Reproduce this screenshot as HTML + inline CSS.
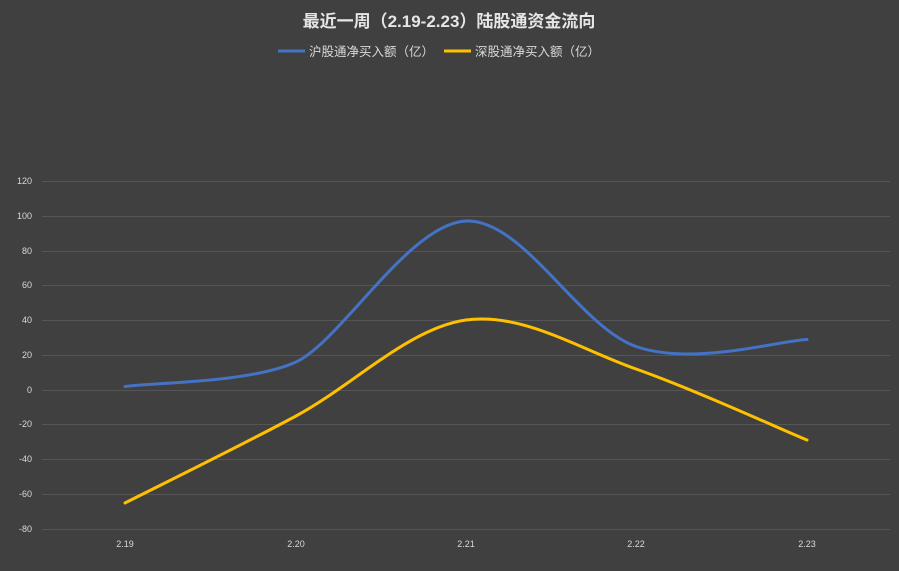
<!DOCTYPE html>
<html><head><meta charset="utf-8"><style>
body{margin:0;background:#404040;}
svg{display:block;font-family:"Liberation Sans","Noto Sans CJK SC",sans-serif;}
</style></head><body>
<svg width="899" height="571" viewBox="0 0 899 571">
<rect width="899" height="571" fill="#404040"/>
<text x="449" y="27" text-anchor="middle" fill="#e6e6e6" font-size="17" font-weight="bold">最近一周（2.19-2.23）陆股通资金流向</text>
<line x1="278" y1="51" x2="305" y2="51" stroke="#4472c4" stroke-width="3"/>
<text x="309" y="56" fill="#d9d9d9" font-size="12.5">沪股通净买入额（亿）</text>
<line x1="444" y1="51" x2="471" y2="51" stroke="#ffc000" stroke-width="3"/>
<text x="475" y="56" fill="#d9d9d9" font-size="12.5">深股通净买入额（亿）</text>
<g stroke="#555555" stroke-width="1">
<line x1="42" y1="181.5" x2="890" y2="181.5"/>
<line x1="42" y1="216.5" x2="890" y2="216.5"/>
<line x1="42" y1="251.5" x2="890" y2="251.5"/>
<line x1="42" y1="285.5" x2="890" y2="285.5"/>
<line x1="42" y1="320.5" x2="890" y2="320.5"/>
<line x1="42" y1="355.5" x2="890" y2="355.5"/>
<line x1="42" y1="390.5" x2="890" y2="390.5"/>
<line x1="42" y1="424.5" x2="890" y2="424.5"/>
<line x1="42" y1="459.5" x2="890" y2="459.5"/>
<line x1="42" y1="494.5" x2="890" y2="494.5"/>
<line x1="42" y1="529.5" x2="890" y2="529.5"/>
</g>
<g fill="#d9d9d9" font-size="9" text-anchor="end">
<text x="32" y="184">120</text><text x="32" y="219">100</text><text x="32" y="254">80</text>
<text x="32" y="288">60</text><text x="32" y="323">40</text><text x="32" y="358">20</text>
<text x="32" y="393">0</text><text x="32" y="427">-20</text><text x="32" y="462">-40</text>
<text x="32" y="497">-60</text><text x="32" y="532">-80</text>
</g>
<g fill="#d9d9d9" font-size="9" text-anchor="middle">
<text x="125" y="547">2.19</text><text x="296" y="547">2.20</text><text x="466" y="547">2.21</text>
<text x="636" y="547">2.22</text><text x="807" y="547">2.23</text>
</g>
<path d="M125,386.5 C153.5,382.4 250,383 296,362 C342,340 409.3,223.6 466,221 C522.7,218.4 579.2,326.75 636,346.5 C692.8,366.25 778.5,340.7 807,339.5" fill="none" stroke="#4472c4" stroke-width="3" stroke-linecap="round"/>
<path d="M125,503 C153.5,488.5 239.2,446.5 296,416 C352.8,385.5 409.3,327.8 466,320 C522.7,312.2 579.2,349 636,369 C692.8,389 778.5,428.2 807,440" fill="none" stroke="#ffc000" stroke-width="3" stroke-linecap="round"/>
</svg>
</body></html>
